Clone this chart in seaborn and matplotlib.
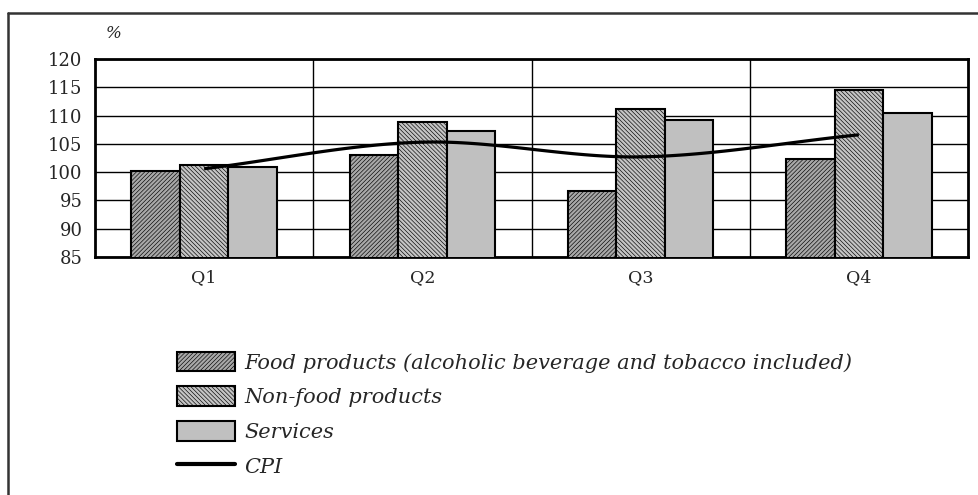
import numpy as np
import pandas as pd
import matplotlib
matplotlib.use("Agg")
import matplotlib.pyplot as plt
from matplotlib.patches import Patch
from matplotlib.lines import Line2D
import seaborn as sns

quarters = ["Q1", "Q2", "Q3", "Q4"]
series_names = [
    "Food products (alcoholic beverage and tobacco included)",
    "Non-food products",
    "Services",
]
food = [100.2, 103.0, 96.7, 102.3]
nonfood = [101.2, 108.9, 111.1, 114.6]
services = [100.9, 107.2, 109.3, 110.4]
cpi = [100.6, 105.3, 102.7, 106.6]
y_ticks = [85, 90, 95, 100, 105, 110, 115, 120]

df = pd.DataFrame({
    "quarter": quarters * 3,
    "series": np.repeat(series_names, len(quarters)),
    "value": food + nonfood + services,
})

sns.set_style("white")
plt.rcParams["font.family"] = ["DejaVu Serif"]
plt.rcParams["hatch.linewidth"] = 0.45

fig = plt.figure(figsize=(9.79, 4.95), dpi=100)
ax = fig.add_axes([95 / 979, 1 - 257 / 495, 873 / 979, 198 / 495])

sns.barplot(data=df, x="quarter", y="value", hue="series", order=quarters,
            hue_order=series_names, width=0.667, ax=ax, legend=False,
            edgecolor="black", linewidth=1.5, zorder=3)

styles = [
    dict(facecolor="#a8a8a8", hatch="////////"),
    dict(facecolor="#c4c4c4", hatch="\\\\\\\\\\\\\\\\"),
    dict(facecolor="#c0c0c0", hatch=None),
]
for cont, st in zip(ax.containers, styles):
    for bar in cont:
        bar.set_facecolor(st["facecolor"])
        bar.set_hatch(st["hatch"])
        bar.set_edgecolor("black")

# smooth CPI curve through the quarterly points (Catmull-Rom)
xs = np.arange(len(cpi), dtype=float)
ys = np.array(cpi, dtype=float)
px = np.concatenate([[2 * xs[0] - xs[1]], xs, [2 * xs[-1] - xs[-2]]])
py = np.concatenate([[2 * ys[0] - ys[1]], ys, [2 * ys[-1] - ys[-2]]])
cx, cy = [], []
t = np.linspace(0, 1, 40)
for i in range(1, len(px) - 2):
    p0, p1, p2, p3 = py[i - 1], py[i], py[i + 1], py[i + 2]
    q0, q1, q2, q3 = px[i - 1], px[i], px[i + 1], px[i + 2]
    cy.append(0.5 * (2 * p1 + (-p0 + p2) * t + (2 * p0 - 5 * p1 + 4 * p2 - p3) * t**2
                     + (-p0 + 3 * p1 - 3 * p2 + p3) * t**3))
    cx.append(0.5 * (2 * q1 + (-q0 + q2) * t + (2 * q0 - 5 * q1 + 4 * q2 - q3) * t**2
                     + (-q0 + 3 * q1 - 3 * q2 + q3) * t**3))
ax.plot(np.concatenate(cx), np.concatenate(cy), color="black", lw=2.3,
        solid_capstyle="butt", zorder=5)

ax.set_xlim(-0.5, 3.5)
ax.set_ylim(85, 120)
ax.set_yticks(y_ticks)
ax.set_yticklabels([str(v) for v in y_ticks], fontsize=13)
ax.set_xticks([0.5, 1.5, 2.5])
ax.set_xticklabels([])
ax.set_xticks(range(len(quarters)), minor=True)
ax.set_xticklabels(quarters, minor=True, fontsize=12.5)
ax.tick_params(axis="x", which="minor", length=0, pad=9)
ax.tick_params(axis="x", which="major", length=6, width=1.3, color="black", direction="out")
ax.tick_params(axis="y", length=6, width=1.3, color="black", direction="out", pad=3)
ax.set_xlabel("")
ax.set_ylabel("")

for v in y_ticks:
    ax.axhline(v, color="black", lw=1.0, zorder=1)
for xv in [0.5, 1.5, 2.5]:
    ax.axvline(xv, color="black", lw=1.0, zorder=1)
for side in ["left", "right", "bottom", "top"]:
    ax.spines[side].set_visible(True)
    ax.spines[side].set_color("black")
    ax.spines[side].set_linewidth(2.0)

fig.text(106 / 979, 1 - 33 / 495, "%", fontsize=12, style="italic", va="center")

handles = [
    Patch(facecolor=styles[0]["facecolor"], hatch=styles[0]["hatch"], edgecolor="black", lw=1.5),
    Patch(facecolor=styles[1]["facecolor"], hatch=styles[1]["hatch"], edgecolor="black", lw=1.5),
    Patch(facecolor=styles[2]["facecolor"], edgecolor="black", lw=1.5),
    Line2D([0], [0], color="black", lw=3),
]
labels = series_names + ["CPI"]
fig.legend(handles, labels, loc="upper left", bbox_to_anchor=(158 / 979, 1 - 333 / 495),
           frameon=False, prop=dict(size=15, style="italic"),
           handlelength=2.8, handleheight=1.05, labelspacing=0.67, handletextpad=0.45)

# outer frame (top and left edges)
fig.add_artist(Line2D([8 / 979, 1.0], [1 - 13 / 495] * 2, color="#333333", lw=1.8))
fig.add_artist(Line2D([8 / 979] * 2, [0.0, 1 - 13 / 495], color="#333333", lw=1.8))

fig.savefig("out.png", dpi=100)
